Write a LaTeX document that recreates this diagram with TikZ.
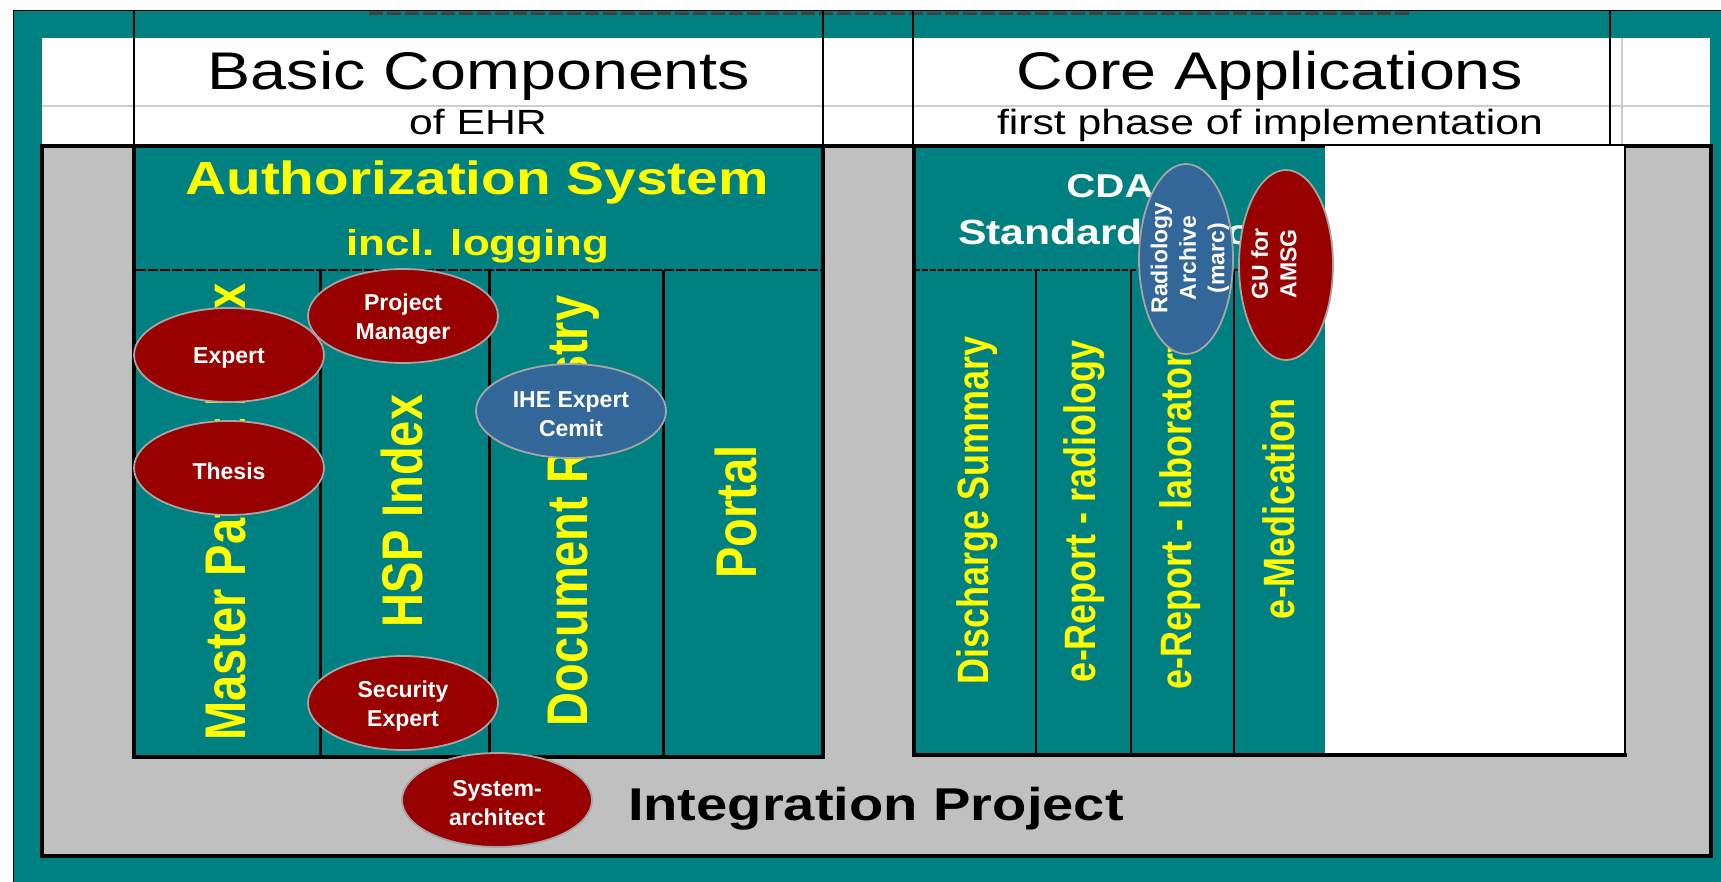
\documentclass[tikz,border=0pt]{standalone}
\usepackage{fontspec}
\setmainfont{Liberation Sans}
\usepackage{graphicx}
\usetikzlibrary{shapes.geometric}
\definecolor{tealbg}{RGB}{0,128,128}
\definecolor{grayarea}{RGB}{192,192,192}
\definecolor{ylw}{RGB}{255,255,0}
\definecolor{dred}{RGB}{153,0,0}
\definecolor{dblue}{RGB}{51,102,153}
\definecolor{ringgray}{RGB}{165,165,165}
\definecolor{gridgray}{RGB}{205,205,205}
\newcommand{\myfs}[1]{\fontsize{#1pt}{#1pt}\selectfont}
\newcommand{\hstretch}[1]{\scalebox{1.22}[1]{#1}}
\newcommand{\vstretch}[1]{\scalebox{1.22}[1]{\rotatebox{90}{#1}}}
\begin{document}
\begin{tikzpicture}[x=1pt,y=-1pt,
  every node/.style={inner sep=0pt, outer sep=0pt},
  role/.style={ellipse, draw=ringgray, line width=1.8pt, inner sep=0pt},
  redrole/.style={role, fill=dred, minimum width=190pt, minimum height=94pt},
  bluerole/.style={role, fill=dblue, minimum width=190pt, minimum height=94pt},
  redroleup/.style={role, fill=dred, minimum width=94pt, minimum height=190pt},
  blueroleup/.style={role, fill=dblue, minimum width=94pt, minimum height=190pt},
  efont/.style={text=white, align=center, font=\fontsize{23pt}{28.5pt}\selectfont\bfseries},
  etext/.style={efont, yshift=-3pt},
  coltext/.style={text=ylw, font=\myfs{47}\bfseries},
  coltextsm/.style={text=ylw, font=\myfs{36}\bfseries},
  headtext/.style={anchor=base, text=black},
  thickline/.style={line width=4pt, black},
  gridline/.style={line width=1.2pt, black}
]
\useasboundingbox (0,0) rectangle (1721,882);
\fill[white] (0,0) rectangle (1721,882);
% teal background
\fill[tealbg] (13,11) rectangle (1721,882);
\draw[line width=1pt] (13,882) -- (13,11) -- (1721,11);
\draw[black!75, line width=2.5pt, dash pattern=on 14pt off 4pt] (369,13.5) -- (1409,13.5);
% white header
\fill[white] (42,38) rectangle (1710,146);
\draw[gridgray, line width=1.2pt] (42,106) -- (1710,106);
\draw[gridgray, line width=1.2pt] (1622,38) -- (1622,146);
\draw[gridline] (134,11) -- (134,146);
\draw[gridline] (823,11) -- (823,146);
\draw[gridline] (913,11) -- (913,146);
\draw[gridline] (1610,11) -- (1610,146);
% gray integration area
\fill[grayarea] (42,146) rectangle (1711,856);
\draw[thickline] (42,146) rectangle (1711,856);
% left block
\filldraw[fill=tealbg, draw=black, line width=4pt] (134,146) rectangle (823,757);
\draw[line width=2.5pt, dash pattern=on 10pt off 2pt] (136,270) -- (821,270);
\draw[line width=3pt] (320,270) -- (320,757);
\draw[line width=3pt] (489,270) -- (489,757);
\draw[line width=3pt] (663,270) -- (663,757);
% right block
\fill[tealbg] (914,146) rectangle (1325,755);
\fill[white] (1325,146) rectangle (1625,755);
\draw[line width=1.5pt] (1625,146) -- (1625,755);
\draw[line width=3.5pt] (912,755) -- (1627,755);
\draw[line width=4pt] (914,757) -- (914,146) -- (1325,146);
\draw[line width=1.5pt, dash pattern=on 6pt off 2pt] (914,270) -- (1325,270);
\draw[line width=1.6pt] (1036,270) -- (1036,755);
\draw[line width=1.6pt] (1131,270) -- (1131,755);
\draw[line width=1.6pt] (1234,270) -- (1234,755);
% header texts
\node[headtext] (bc) at (479,90) {\myfs{53}\hstretch{Basic Components}};
\node[headtext] (ehr) at (478,135) {\myfs{35}\hstretch{of EHR}};
\node[headtext] (ca) at (1270,90) {\myfs{53}\hstretch{Core Applications}};
\node[headtext] (fp) at (1270,135) {\myfs{35}\hstretch{first phase of implementation}};
% authorization
\node[anchor=base, text=ylw] (auth) at (477,195) {\myfs{46.5}\bfseries\hstretch{Authorization System}};
\node[anchor=base, text=ylw] (logg) at (478,256) {\myfs{36}\bfseries\hstretch{incl. logging}};
% left column texts
\node[coltext] (mpi) at (225,512) {\vstretch{Master Patient Index}};
\node[coltext] (hsp) at (402,511) {\vstretch{HSP Index}};
\node[coltext] (docreg) at (573,511) {\vstretch{Document Registry}};
\node[coltext] (portal) at (736,512) {\vstretch{Portal}};
% CDA
\node[anchor=base, text=white] (cda) at (1110,198) {\myfs{33}\bfseries\hstretch{CDA}};
\node[anchor=base west, text=white] (std) at (958,245) {\myfs{35}\bfseries\hstretch{Standardization}};
% right column texts
\node[coltextsm] (dis) at (977,510) {\vstretch{Discharge Summary}};
\node[coltextsm] (rad) at (1084,511) {\vstretch{e-Report - radiology}};
\node[coltextsm] (lab) at (1180,511) {\vstretch{e-Report - laboratory}};
\node[coltextsm] (med) at (1279,509) {\vstretch{e-Medication}};
% integration project
\node[anchor=base west] (ip) at (628,820) {\myfs{46}\bfseries\hstretch{Integration Project}};
% role ellipses
\node[redrole] (pm) at (403,316) {};
\node[etext] (pmt) at (pm) {Project\\Manager};
\node[redrole] (ex) at (229,355) {};
\node[etext] (ext) at (ex) {Expert};
\node[redrole] (th) at (229,468) {};
\node[etext] (tht) at (th) {Thesis};
\node[bluerole] (ihe) at (571,411) {};
\node[etext] (ihet) at (ihe) {IHE Expert\\Cemit};
\node[redrole] (sec) at (403,703) {};
\node[etext] (sect) at (sec) {Security\\Expert};
\node[redrole] (sa) at (497,800) {};
\node[etext] (sat) at (sa) {System-\\architect};
\node[blueroleup] (ra) at (1186,259) {};
\node[efont, rotate=90] (rat) at (1190,258) {Radiology\\Archive\\(marc)};
\node[redroleup] (gu) at (1286,265) {};
\node[efont, rotate=90] (gut) at (1274,264) {GU for\\AMSG};
\end{tikzpicture}
\end{document}
